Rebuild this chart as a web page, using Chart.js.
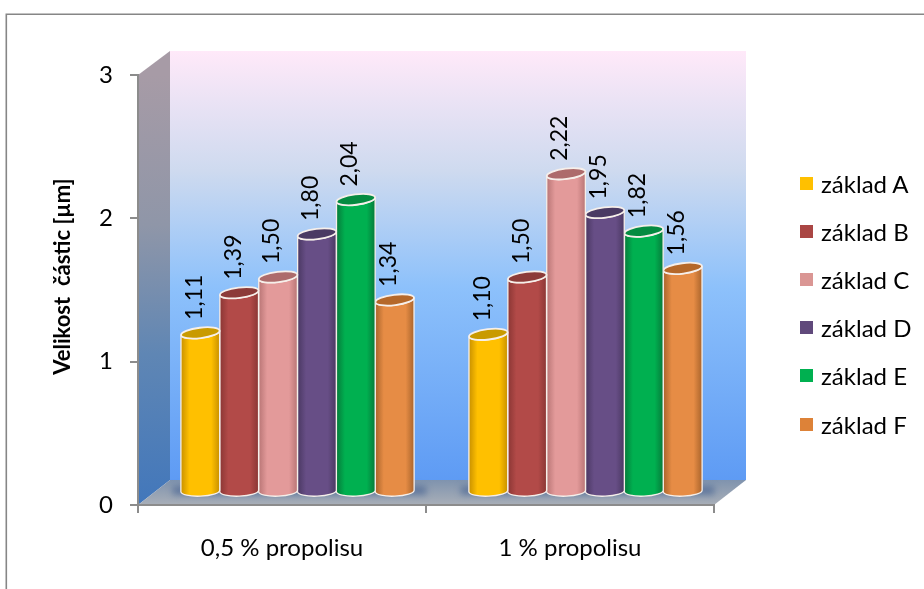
<!DOCTYPE html>
<html lang="cs">
<head>
<meta charset="utf-8">
<title>Velikost částic</title>
<script src="https://cdn.jsdelivr.net/npm/chart.js@4/dist/chart.umd.js"></script>
<style>
  html, body { margin: 0; background: #fff; }
  #wrap { position: relative; width: 924px; height: 589px; overflow: hidden; }
  #legend { position: absolute; left: 800px; top: 159px; margin: 0; padding: 0; list-style: none;
            font: 24px Lato, sans-serif; color: #000; }
  #legend li { height: 48.2px; display: flex; align-items: center; white-space: nowrap; }
  #legend i { width: 13px; height: 13px; margin-right: 8px; display: block; }
</style>
</head>
<body>
<div id="wrap">
  <canvas id="chart" width="924" height="589"></canvas>
  <ul id="legend"></ul>
</div>
<script>
const categories = ['0,5 % propolisu', '1 % propolisu'];
const seriesNames = ['základ A', 'základ B', 'základ C', 'základ D', 'základ E', 'základ F'];
const seriesValues = [
  [1.11, 1.10],
  [1.39, 1.50],
  [1.50, 2.22],
  [1.80, 1.95],
  [2.04, 1.82],
  [1.34, 1.56]
];
const yTicks = [0, 1, 2, 3];

// body, dark edge, top cap
const seriesColors = ['#FFC000', '#B24A48', '#E39A9A', '#674E86', '#00B050', '#E68C45'];
const edgeColors = ['#C89000', '#8A3634', '#B87575', '#4A3862', '#067A3A', '#A9642C'];
const capColors = ['#C99A00', '#8C3B39', '#AD6B6B', '#4A3A63', '#058B41', '#B5682A'];
const legendColors = ['#FFC000', '#AA4644', '#DA9694', '#60497B', '#00B050', '#DD8238'];

// the room is drawn in a fake 3D: depth of the walls, and how far bars sit inside it
const DEPTH_X = 32, DEPTH_Y = 25;
const BAR_DX = 15.5, BAR_DY = -13;
const CAP_RY = 5.2, CAP_TILT = -0.12;
const AXIS_GREY = '#8C8C8C';

function drawRoom(chart) {
  const { ctx, chartArea: a } = chart;
  ctx.save();
  ctx.fillStyle = '#fff';
  ctx.fillRect(0, 0, chart.width, chart.height);

  // outer frame, only top and left fall inside the page
  ctx.strokeStyle = '#868686';
  ctx.lineWidth = 1.6;
  ctx.beginPath();
  ctx.moveTo(6.3, chart.height);
  ctx.lineTo(6.3, 14.2);
  ctx.lineTo(chart.width, 14.2);
  ctx.stroke();

  const backL = a.left + DEPTH_X, backR = a.right + DEPTH_X;
  const backT = a.top - DEPTH_Y + 1, backB = a.bottom - DEPTH_Y;

  // back wall
  const wall = ctx.createLinearGradient(0, backT, 0, backB);
  wall.addColorStop(0, '#FFE9F9');
  wall.addColorStop(0.28, '#CEDAEF');
  wall.addColorStop(0.55, '#8DC1FB');
  wall.addColorStop(1, '#5E9BF4');
  ctx.fillStyle = wall;
  ctx.fillRect(backL, backT, backR - backL, backB - backT);

  // side wall
  const side = ctx.createLinearGradient(0, a.top, 0, a.bottom);
  side.addColorStop(0, '#A79BA6');
  side.addColorStop(0.35, '#8F96A8');
  side.addColorStop(0.65, '#5F86B4');
  side.addColorStop(1, '#4277BB');
  ctx.fillStyle = side;
  ctx.beginPath();
  ctx.moveTo(a.left, a.top);
  ctx.lineTo(backL, backT);
  ctx.lineTo(backL, backB);
  ctx.lineTo(a.left, a.bottom);
  ctx.closePath();
  ctx.fill();

  // floor
  const floor = ctx.createLinearGradient(0, backB, 0, a.bottom);
  floor.addColorStop(0, '#7F93AE');
  floor.addColorStop(1, '#A9AFB8');
  ctx.fillStyle = floor;
  ctx.beginPath();
  ctx.moveTo(a.left, a.bottom);
  ctx.lineTo(backL, backB);
  ctx.lineTo(backR, backB);
  ctx.lineTo(a.right, a.bottom);
  ctx.closePath();
  ctx.fill();

  // soft shadow of each bar group on the floor
  const first = chart.getDatasetMeta(0).data;
  const last = chart.getDatasetMeta(seriesNames.length - 1).data;
  ctx.filter = 'blur(3px)';
  ctx.fillStyle = 'rgba(60, 90, 140, 0.55)';
  first.forEach((bar, i) => {
    const x0 = bar.x - bar.width / 2 + BAR_DX - 8;
    const x1 = last[i].x + last[i].width / 2 + BAR_DX + 12;
    ctx.fillRect(x0, a.bottom + BAR_DY - 6, x1 - x0, 9);
  });
  ctx.restore();
}

function drawCylinder(ctx, bar, index) {
  const x = bar.x + BAR_DX, w = bar.width, rx = w / 2;
  const top = bar.y + BAR_DY, bottom = bar.base + BAR_DY;

  const body = ctx.createLinearGradient(x - rx, 0, x + rx, 0);
  body.addColorStop(0, edgeColors[index]);
  body.addColorStop(0.22, seriesColors[index]);
  body.addColorStop(0.78, seriesColors[index]);
  body.addColorStop(1, edgeColors[index]);

  ctx.beginPath();
  ctx.ellipse(x, top, rx, CAP_RY, CAP_TILT, Math.PI, 0, true);
  ctx.ellipse(x, bottom, rx, CAP_RY, -0.04, 0, Math.PI, false);
  ctx.closePath();
  ctx.fillStyle = body;
  ctx.fill();
  ctx.strokeStyle = '#F6EFEA';
  ctx.lineWidth = 1.3;
  ctx.stroke();

  ctx.beginPath();
  ctx.ellipse(x, top, rx, CAP_RY, CAP_TILT, 0, Math.PI * 2);
  ctx.fillStyle = capColors[index];
  ctx.fill();
  ctx.lineWidth = 1.8;
  ctx.stroke();
}

const room3d = {
  id: 'room3d',
  beforeDraw: drawRoom,
  // bars are replaced by cylinders, still placed from the elements' own geometry
  beforeDatasetDraw(chart, args) {
    args.meta.data.forEach(bar => drawCylinder(chart.ctx, bar, args.index));
    return false;
  },
  afterDatasetsDraw(chart) {
    const { ctx } = chart;
    ctx.save();
    ctx.fillStyle = '#000';
    ctx.font = '23px Lato, sans-serif';
    ctx.textAlign = 'left';
    ctx.textBaseline = 'middle';
    chart.data.datasets.forEach((ds, i) => {
      chart.getDatasetMeta(i).data.forEach((bar, j) => {
        ctx.save();
        ctx.translate(bar.x + BAR_DX - 6, bar.y + BAR_DY - 13);
        ctx.rotate(-Math.PI / 2);
        ctx.fillText(ds.data[j].toFixed(2).replace('.', ','), 0, 0);
        ctx.restore();
      });
    });
    ctx.restore();
  }
};

new Chart(document.getElementById('chart'), {
  type: 'bar',
  data: {
    labels: categories,
    datasets: seriesNames.map((name, i) => ({
      label: name,
      data: seriesValues[i],
      backgroundColor: seriesColors[i]
    }))
  },
  options: {
    responsive: false,
    animation: false,
    categoryPercentage: 0.81,
    barPercentage: 1,
    layout: { padding: { top: 75, right: 210, bottom: 0, left: 0 } },
    plugins: { legend: { display: false }, tooltip: { enabled: false } },
    scales: {
      x: {
        afterFit: scale => { scale.height = 84; },
        border: { color: AXIS_GREY, width: 2 },
        grid: { drawOnChartArea: false, color: AXIS_GREY, lineWidth: 2, tickLength: 8 },
        ticks: { color: '#000', font: { family: 'Lato, sans-serif', size: 24 }, padding: 21, maxRotation: 0 }
      },
      y: {
        min: 0,
        max: 3,
        afterFit: scale => { scale.width = 138; },
        afterBuildTicks: scale => { scale.ticks = yTicks.map(value => ({ value })); },
        border: { color: AXIS_GREY, width: 2 },
        grid: { drawOnChartArea: false, color: AXIS_GREY, lineWidth: 2, tickLength: 8 },
        ticks: { color: '#000', font: { family: 'Lato, sans-serif', size: 24 }, padding: 17 },
        title: {
          display: true,
          // leading spaces nudge the centred title up the axis
          text: ' '.repeat(5) + 'Velikost  částic [µm]',
          color: '#000',
          font: { family: 'Lato, sans-serif', size: 22, weight: 'bold' },
          padding: { top: 50, bottom: 0 }
        }
      }
    }
  },
  plugins: [room3d]
});

// plain DOM legend next to the plot
document.getElementById('legend').innerHTML = seriesNames
  .map((name, i) => `<li><i style="background:${legendColors[i]}"></i>${name}</li>`)
  .join('');
</script>
</body>
</html>
